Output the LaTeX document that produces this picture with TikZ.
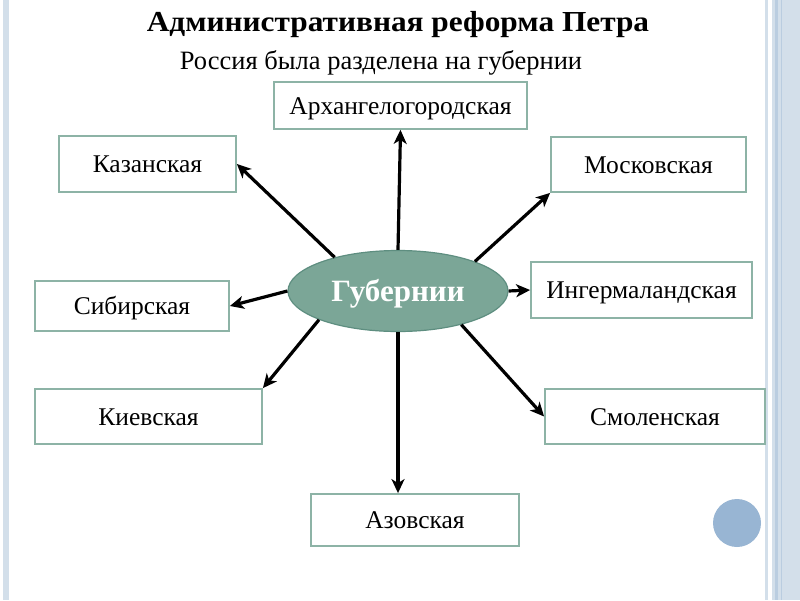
\documentclass[tikz,border=0pt]{standalone}
\usepackage{fontspec}
\setmainfont{Liberation Serif}
\newfontfamily\titlefont{Liberation Serif}[FakeStretch=1.08]
\usetikzlibrary{arrows.meta,shapes.geometric}
\definecolor{boxc}{HTML}{8DB3A6}
\definecolor{ellfill}{HTML}{7BA697}
\definecolor{elldraw}{HTML}{5E8E80}
\definecolor{stripc}{HTML}{D3DFEA}
\definecolor{stripd}{HTML}{BACDE0}
\definecolor{dotc}{HTML}{98B5D3}
\begin{document}
\begin{tikzpicture}[x=1pt,y=-1pt,
  box/.style={draw=boxc, line width=1.8pt, fill=white, inner sep=0pt, text height=17pt, text depth=0pt, font=\fontsize{25.5}{28}\selectfont},
  arr/.style={line width=3.2pt, -{Stealth[length=14pt,width=13pt,inset=4pt]}}]
\useasboundingbox (0,0) rectangle (800,600);
% frame
\fill[stripc] (3,0) rectangle (9,600);
\fill[stripc] (765,0) rectangle (768,600);
\fill[stripc] (772,0) rectangle (800,600);
\fill[stripd] (775,0) rectangle (778,600);
\fill[stripd] (781,0) rectangle (782,600);
\fill[dotc] (737,523) circle (24);
% titles
\node[anchor=base, inner sep=0pt, font=\titlefont\bfseries\fontsize{29}{34}\selectfont] (title) at (398,31) {Административная реформа Петра};
\node[anchor=base, inner sep=0pt, font=\fontsize{26.5}{30}\selectfont] (sub) at (381,69) {Россия была разделена на губернии};
% center
\node[ellipse, fill=ellfill, draw=elldraw, line width=1.2pt, minimum width=220, minimum height=81, inner sep=0pt,
  text height=20.5pt, text depth=0pt, text=white, font=\bfseries\fontsize{31}{34}\selectfont] (e) at (398,291) {Губернии};
% boxes
\node[box, minimum width=253, minimum height=47] (arch) at (400.5,105.5) {Архангелогородская};
\node[box, minimum width=177, minimum height=56] (kaz) at (147.5,164) {Казанская};
\node[box, minimum width=195, minimum height=55] (mos) at (648.5,164.5) {Московская};
\node[box, minimum width=221, minimum height=56] (ing) at (641.5,290) {Ингермаландская};
\node[box, minimum width=194, minimum height=50] (sib) at (132,306) {Сибирская};
\node[box, minimum width=227, minimum height=55] (kiev) at (148.5,416.5) {Киевская};
\node[box, minimum width=220, minimum height=55] (smol) at (655,416.5) {Смоленская};
\node[box, minimum width=208, minimum height=52] (azov) at (415,520) {Азовская};
% arrows
\draw[arr] (e.north) -- (arch.south);
\draw[arr] (e.152) -- (kaz.east);
\draw[arr] (e.21) -- (mos.south west);
\draw[arr] (e.east) -- (ing.west);
\draw[arr] (e.west) -- (sib.east);
\draw[arr] (e.200) -- (kiev.north east);
\draw[arr] (e.332) -- (smol.west);
\draw[arr] (e.south) -- (e.south |- azov.north);
\end{tikzpicture}
\end{document}
